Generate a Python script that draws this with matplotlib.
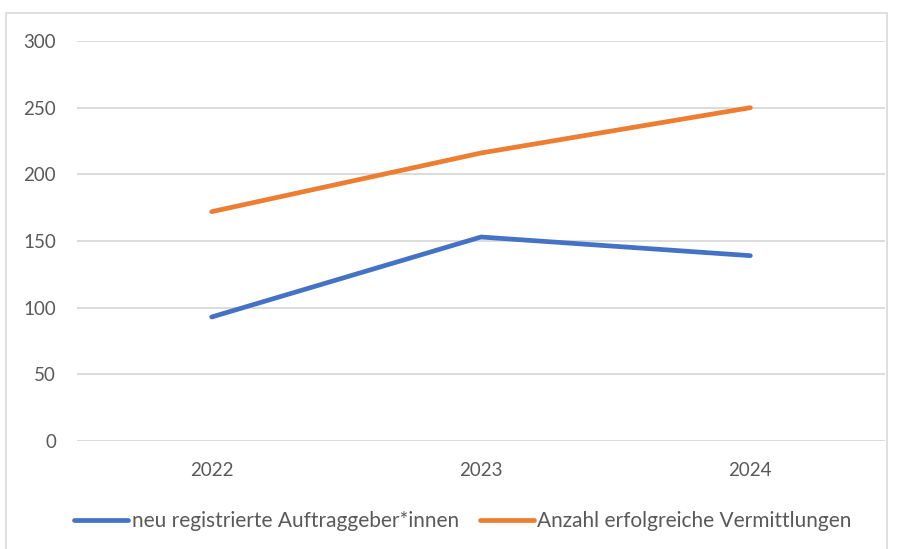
import matplotlib.pyplot as plt
from matplotlib.patches import Rectangle

# data
years = ["2022", "2023", "2024"]
auftraggeber = [93, 153, 139]
vermittlungen = [172, 216, 250]
labels = ["neu registrierte Auftraggeber*innen", "Anzahl erfolgreiche Vermittlungen"]

plt.rcParams['font.family'] = ['Lato', 'DejaVu Sans']

fig = plt.figure(figsize=(9.02, 5.49), dpi=100)
ax = fig.add_axes([77/902, 1 - 441/549, (885 - 77)/902, 400/549])

# outer chart border
fig.patches.append(Rectangle((6/902, -0.05), (887 - 6)/902, 1.05 - 13/549,
                             transform=fig.transFigure, fill=False,
                             edgecolor='#D9D9D9', linewidth=1.2))

x = range(len(years))
ax.plot(x, auftraggeber, color='#4472C4', lw=3.4, solid_capstyle='round', label=labels[0])
ax.plot(x, vermittlungen, color='#ED7D31', lw=3.4, solid_capstyle='round', label=labels[1])

ax.set_xlim(-0.5, 2.5)
ax.set_ylim(0, 300)
ax.set_yticks(range(0, 301, 50))
ax.set_xticks(list(x))
ax.set_xticklabels(years)
ax.yaxis.grid(True, color='#D9D9D9', lw=1.3)
ax.set_axisbelow(True)
for s in ax.spines.values():
    s.set_visible(False)
ax.tick_params(length=0, labelsize=13.5, colors='#595959')
ax.tick_params(axis='y', pad=15)
ax.tick_params(axis='x', pad=15)

fig.legend(loc='center', bbox_to_anchor=(0.513, 1 - 521/549), ncol=2, frameon=False,
           fontsize=15, labelcolor='#595959', handlelength=2.6, handletextpad=0.15,
           columnspacing=1.0)

fig.savefig('out.png', dpi=100)
